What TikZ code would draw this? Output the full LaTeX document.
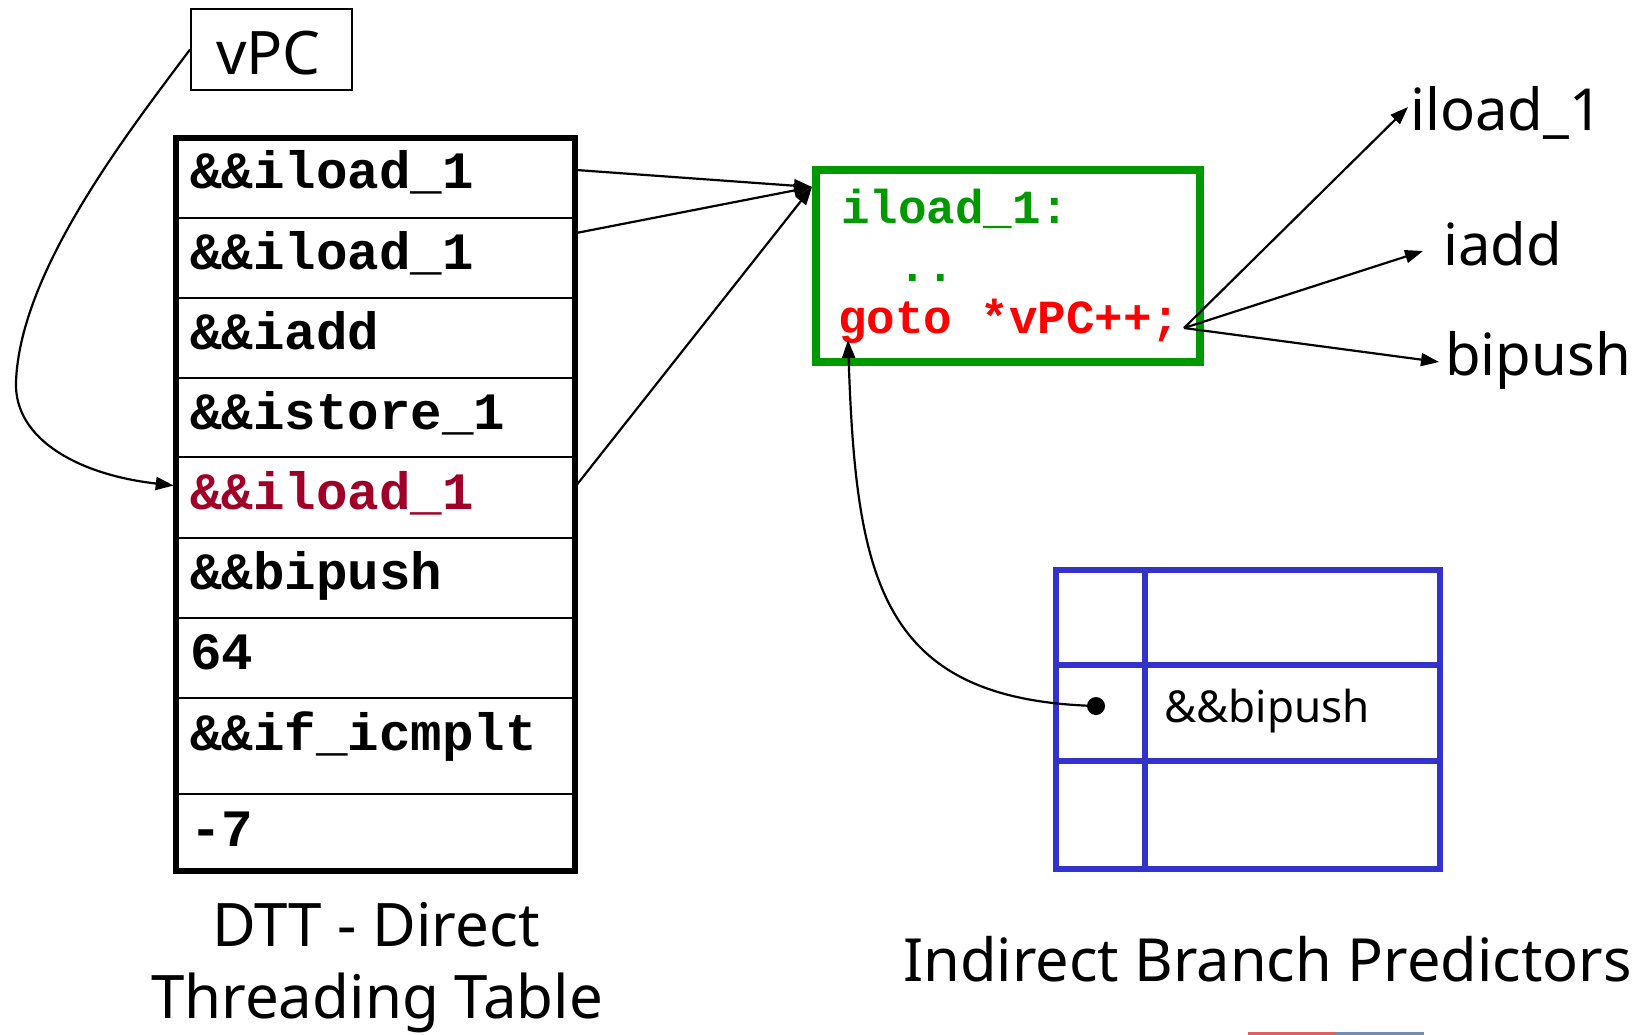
\documentclass[tikz,border=0pt]{standalone}
\usepackage{fontspec}
\setmainfont{Noto Sans}
\newfontfamily\codefont{Liberation Mono}
\usetikzlibrary{arrows.meta,calc}

\definecolor{cgreen}{RGB}{0,153,0}
\definecolor{cred}{RGB}{255,0,0}
\definecolor{cdarkred}{RGB}{160,0,40}
\definecolor{cblue}{RGB}{51,51,204}
\definecolor{footred}{RGB}{225,95,95}
\definecolor{footblue}{RGB}{115,140,180}

\tikzset{
  conn/.style={line width=2.2pt, -{Triangle[length=18pt,width=13pt]}},
  rowbox/.style={draw, line width=2.5pt, minimum width=399pt, inner sep=0pt},
  rowtext/.style={anchor=base west, inner sep=0pt,
    font=\codefont\bfseries\fontsize{52.5pt}{60pt}\selectfont},
  greentext/.style={anchor=base west, inner sep=0pt,
    font=\codefont\bfseries\fontsize{47.5pt}{54pt}\selectfont},
  bigtext/.style={inner sep=0pt, font=\fontsize{58pt}{66pt}\selectfont},
  captext/.style={inner sep=0pt, font=\fontsize{60pt}{70pt}\selectfont},
}

\begin{document}
\begin{tikzpicture}[x=1pt,y=-1pt]
\useasboundingbox (0,0) rectangle (1640,1035);

% ---- vPC register ----
\node[draw, line width=2pt, minimum width=161pt, minimum height=81pt, inner sep=0pt] (vpc) at (271.5,49.5) {};
\node[bigtext, anchor=base west, font=\fontsize{60pt}{70pt}\selectfont] (vpct) at (216,75) {vPC};

% ---- direct threading table ----
\node[rowbox, minimum height=80pt] (r1) at (375.5,178) {};
\node[rowbox, minimum height=80pt] (r2) at (375.5,258) {};
\node[rowbox, minimum height=80pt] (r3) at (375.5,338) {};
\node[rowbox, minimum height=79pt] (r4) at (375.5,417.5) {};
\node[rowbox, minimum height=81pt] (r5) at (375.5,497.5) {};
\node[rowbox, minimum height=80pt] (r6) at (375.5,578) {};
\node[rowbox, minimum height=80pt] (r7) at (375.5,658) {};
\node[rowbox, minimum height=96pt] (r8) at (375.5,746) {};
\node[rowbox, minimum height=77pt] (r9) at (375.5,832.5) {};
\draw[line width=6pt] (176,138) rectangle (575,871);

\node[rowtext] (t1) at (190,189) {\&\&iload\_1};
\node[rowtext] (t2) at (190,269) {\&\&iload\_1};
\node[rowtext] (t3) at (190,349) {\&\&iadd};
\node[rowtext] (t4) at (190,429) {\&\&istore\_1};
\node[rowtext, text=cdarkred] (t5) at (190,509) {\&\&iload\_1};
\node[rowtext] (t6) at (190,589) {\&\&bipush};
\node[rowtext] (t7) at (190,669) {64};
\node[rowtext] (t8) at (190,750) {\&\&if\_icmplt};
\node[rowtext] (t9) at (190,846) {-7};

\node[captext, anchor=base] (cap1) at (376,946) {DTT - Direct};
\node[captext, anchor=base] (cap2) at (377,1018) {Threading Table};

% ---- handler body ----
\node[draw=cgreen, line width=8pt, minimum width=384pt, minimum height=192pt, inner sep=0pt] (g) at (1008,266) {};
\node[greentext, text=cgreen] (h1) at (841,223) {iload\_1:};
\node[greentext, text=cgreen] (h2) at (898,281) {..};
\node[greentext, text=cred] (goto) at (838,333) {goto *vPC++;};
\coordinate (semi) at (1184,328);

% ---- branch targets ----
\node[bigtext, anchor=base west] (l1) at (1410,131) {iload\_1};
\node[bigtext, anchor=base west] (l2) at (1443,265) {iadd};
\node[bigtext, anchor=base west] (l3) at (1445,375) {bipush};

% ---- indirect branch predictor ----
\node[draw=cblue, line width=6pt, minimum width=384pt, minimum height=299pt, inner sep=0pt] (bp) at (1248,719.5) {};
\draw[cblue, line width=6pt] (1145,570) -- (1145,869);
\draw[cblue, line width=6pt] (1056,665) -- (1440,665);
\draw[cblue, line width=6pt] (1056,761) -- (1440,761);
\node[anchor=base west, inner sep=0pt, font=\fontsize{44pt}{52pt}\selectfont] (bpt) at (1164,722) {\&\&bipush};
\node[captext, anchor=base west, font=\fontsize{59.5pt}{70pt}\selectfont] (cap3) at (903,981) {Indirect Branch Predictors};

% ---- connectors ----
\draw[conn] ($(r1.east)+(0,-8)$) -- ($(g.north west)+(0,21)$);
\draw[conn] ($(r2.east)+(0,-25)$) -- ($(g.north west)+(0,21)$);
\draw[conn] ($(r5.east)+(0,-12)$) -- ($(g.north west)+(0,21)$);

\draw[conn] (semi) -- ($(l1.base west)+(-2,-24)$);
\draw[conn] (semi) -- ($(l2.base west)+(-20,-14)$);
\draw[conn] (semi) -- ($(l3.base west)+(-6,-13)$);

\draw[conn] (vpc.west) .. controls (130,130) and (20,270) .. (16,382)
            .. controls (14,440) and (80,475) .. ($(r5.west)+(-1,-12)$);

\node[circle, fill=black, minimum size=18pt, inner sep=0pt] (dot) at (1096,706) {};
\draw[conn] (dot.center) .. controls (880,700) and (856,580) .. ($(goto.base west)+(10,7)$);

% ---- footer rule ----
\draw[footred, line width=3pt] (1248,1033.5) -- (1336,1033.5);
\draw[footblue, line width=3pt] (1336,1033.5) -- (1424,1033.5);
\end{tikzpicture}
\end{document}
